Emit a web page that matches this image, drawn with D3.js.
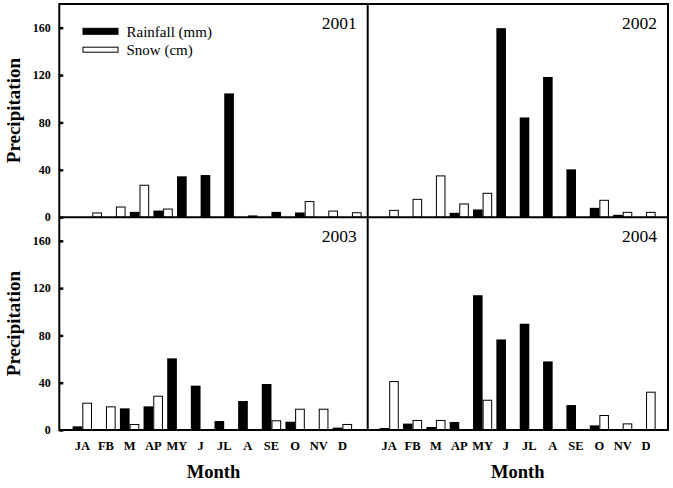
<!DOCTYPE html>
<html>
<head>
<meta charset="utf-8">
<script src="https://cdn.jsdelivr.net/npm/d3@7/dist/d3.min.js"></script>
<style>
html,body{margin:0;padding:0;background:#fff;}
svg{display:block;}
</style>
</head>
<body>
<svg id="chart" width="673" height="488" font-family="'Liberation Serif', 'Times New Roman', Times, 'DejaVu Serif', serif"></svg>
<script>
const months = ["JA","FB","M","AP","MY","J","JL","A","SE","O","NV","D"];
const years = ["2001","2002","2003","2004"];
const yTicks = [0,40,80,120,160];
const seriesNames = ["Rainfall (mm)","Snow (cm)"];

const rain2001 = [0,0,4.5,5.6,34.5,35.6,104.5,1.5,4.5,4,0,0];
const snow2001 = [4,9,27.4,7.3,0,0,0,0,0,13.6,5.6,4.2];
const rain2002 = [0,0,0,3.7,6.5,159.6,84.2,118.4,40.4,7.9,2,0];
const snow2002 = [6.2,15.5,35.3,11.6,20.6,0,0,0,0,14.7,4.5,4.5];
const rain2003 = [3.1,0,18.3,20,60.6,37.5,7.6,24.5,38.9,7,0,2];
const snow2003 = [23.1,20,5.1,29,0,0,0,0,8.2,18,18,5.1];
const rain2004 = [1.7,5.4,2.5,6.8,114,76.6,89.9,58,21.1,3.9,0,0];
const snow2004 = [41.4,8.5,8.5,0.8,25.6,0,0,0,0,12.7,5.6,32.4];

const rainByYear = [rain2001, rain2002, rain2003, rain2004];
const snowByYear = [snow2001, snow2002, snow2003, snow2004];

const FONT = "'Liberation Serif', 'Times New Roman', Times, 'DejaVu Serif', serif";
const svg = d3.select("#chart");
const L = 59.3, MX = 367.7, R = 668, T = 4, MY = 217.2, B = 430;

// panel layout: x-range, y-range, and index-domain (the original top-left panel is shifted)
const panels = [
  {x0: L,  x1: MX, y0: T,  y1: MY, dom: [-1.398, 11.669], left: true,  bottom: false},
  {x0: MX, x1: R,  y0: T,  y1: MY, dom: [-0.921, 11.94],  left: false, bottom: false},
  {x0: L,  x1: MX, y0: MY, y1: B,  dom: [-0.973, 12.07],  left: true,  bottom: true},
  {x0: MX, x1: R,  y0: MY, y1: B,  dom: [-0.921, 11.94],  left: false, bottom: true}
];
const barW = 0.41;

panels.forEach((p, k) => {
  const x = d3.scaleLinear().domain(p.dom).range([p.x0, p.x1]);
  const y = d3.scaleLinear().domain([0, 180]).range([p.y1, p.y0]);
  const g = svg.append("g");

  const rain = rainByYear[k].map((v, i) => ({i, v})).filter(d => d.v > 0);
  const snow = snowByYear[k].map((v, i) => ({i, v})).filter(d => d.v > 0);

  g.selectAll("rect.rain").data(rain).enter().append("rect")
    .attr("class", "rain")
    .attr("x", d => x(d.i - barW))
    .attr("width", d => x(d.i) - x(d.i - barW))
    .attr("y", d => y(d.v))
    .attr("height", d => y(0) - y(d.v))
    .attr("fill", "#000");

  g.selectAll("rect.snow").data(snow).enter().append("rect")
    .attr("class", "snow")
    .attr("x", d => x(d.i) + 0.5)
    .attr("width", d => x(d.i + barW) - x(d.i) - 1)
    .attr("y", d => y(d.v) + 0.5)
    .attr("height", d => Math.max(0, y(0) - y(d.v) - 0.5))
    .attr("fill", "#fff")
    .attr("stroke", "#000")
    .attr("stroke-width", 1);

  // year label
  g.append("text")
    .attr("x", p.x1 - 11)
    .attr("y", p.y0 + 25)
    .attr("text-anchor", "end")
    .attr("font-family", FONT)
    .attr("font-size", "17.5px")
    .text(years[k]);

  if (p.left) {
    const ax = g.append("g").attr("transform", `translate(${p.x0},0)`)
      .call(d3.axisRight(y).tickValues(yTicks).tickSize(4).tickFormat(""));
    ax.select(".domain").remove();
    ax.selectAll(".tick line").attr("stroke", "#000").attr("stroke-width", 2.5);
    g.selectAll("text.ytl").data(yTicks).enter().append("text")
      .attr("class", "ytl")
      .attr("x", p.x0 - 8.5)
      .attr("y", d => y(d))
      .attr("dy", "0.35em")
      .attr("text-anchor", "end")
      .attr("font-family", FONT)
      .attr("font-size", "12px")
      .attr("font-weight", "bold")
      .text(d => d);
    g.append("text")
      .attr("transform", `translate(20,${(p.y0 + p.y1) / 2}) rotate(-90)`)
      .attr("text-anchor", "middle")
      .attr("font-family", FONT)
      .attr("font-size", "19px")
      .attr("font-weight", "bold")
      .text("Precipitation");
  }
  if (p.bottom) {
    g.selectAll("text.xtl").data(months).enter().append("text")
      .attr("class", "xtl")
      .attr("x", (d, i) => x(i))
      .attr("y", 449.5)
      .attr("text-anchor", "middle")
      .attr("font-family", FONT)
      .attr("font-size", "12.5px")
      .attr("font-weight", "bold")
      .text(d => d);
    g.append("text")
      .attr("x", (p.x0 + p.x1) / 2)
      .attr("y", 478)
      .attr("text-anchor", "middle")
      .attr("font-family", FONT)
      .attr("font-size", "18.5px")
      .attr("font-weight", "bold")
      .text("Month");
  }
});

// frame lines
const frame = svg.append("g").attr("stroke", "#000").attr("stroke-width", 2);
frame.append("rect").attr("x", L).attr("y", T).attr("width", R - L).attr("height", B - T).attr("fill", "none");
frame.append("line").attr("x1", MX).attr("x2", MX).attr("y1", T).attr("y2", B);
frame.append("line").attr("x1", L).attr("x2", R).attr("y1", MY).attr("y2", MY);

// legend
const leg = svg.append("g");
const legY = [31.3, 50.2];
seriesNames.forEach((name, i) => {
  leg.append("rect")
    .attr("x", 83).attr("y", legY[i] - 3)
    .attr("width", 35).attr("height", i === 0 ? 6 : 5)
    .attr("fill", i === 0 ? "#000" : "#fff")
    .attr("stroke", "#000").attr("stroke-width", 1);
  leg.append("text")
    .attr("x", 126.5).attr("y", legY[i])
    .attr("dy", "0.35em")
    .attr("font-family", FONT)
    .attr("font-size", "15px")
    .text(name);
});
</script>
</body>
</html>
